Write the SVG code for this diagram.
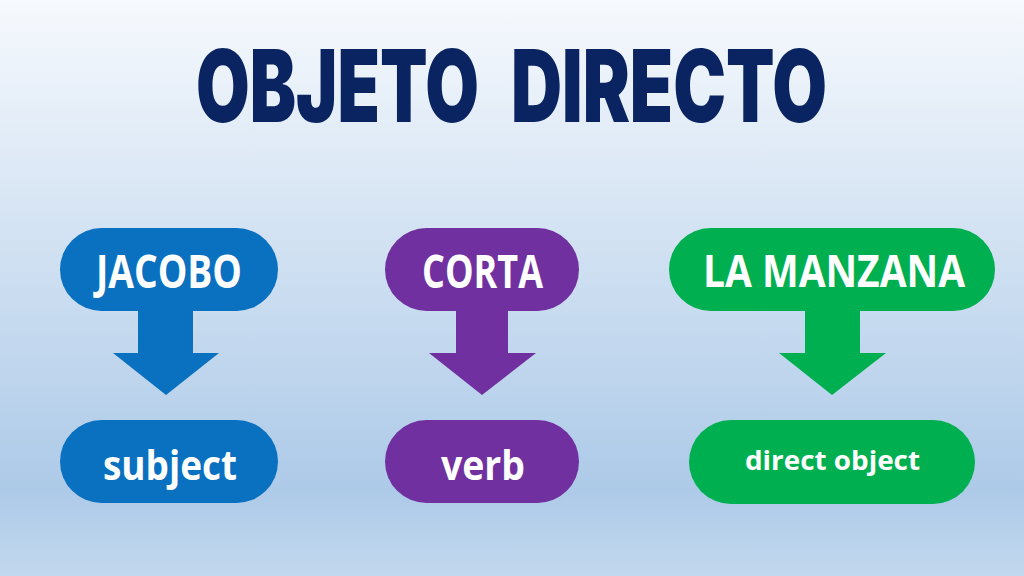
<svg xmlns="http://www.w3.org/2000/svg" width="1024" height="576" viewBox="0 0 1024 576">
<defs>
<linearGradient id="bg" x1="0" y1="0" x2="0" y2="1">
<stop offset="0" stop-color="#f6f9fd"/>
<stop offset="0.85" stop-color="#adcae8"/>
<stop offset="1" stop-color="#c2d8ee"/>
</linearGradient>
<style>
.title{font-family:Inter,"Open Sans","Liberation Sans",sans-serif;font-weight:900;font-size:100px;fill:#0a2462}
.lbl{font-family:"Open Sans","Liberation Sans",sans-serif;font-weight:700;fill:#ffffff;text-anchor:start}
.blue{fill:#0a70c0}
.purple{fill:#7030a0}
.green{fill:#00b050}
</style>
</defs>
<rect width="1024" height="576" fill="url(#bg)"/>
<g id="title">
<text class="title" x="196" y="122" textLength="283" lengthAdjust="spacingAndGlyphs">OBJETO</text>
<text class="title" x="511" y="122" textLength="316" lengthAdjust="spacingAndGlyphs">DIRECTO</text>
</g>
<g id="connectors">
<polygon class="blue" points="138,300 193,300 193,353 219,353 166,395 113,353 138,353"/>
<polygon class="purple" points="456,300 508,300 508,353 536,353 482,395 429,353 456,353"/>
<polygon class="green" points="805,300 860,300 860,353 886,353 832,395 779,353 805,353"/>
</g>
<g id="jacobo">
<rect class="blue" x="60" y="228" width="218" height="83" rx="41.5"/>
<text class="lbl" x="96" y="288" font-size="46" textLength="146" lengthAdjust="spacingAndGlyphs">JACOBO</text>
</g>
<g id="corta">
<rect class="purple" x="385" y="228" width="194" height="83" rx="41.5"/>
<text class="lbl" x="422" y="288" font-size="46" textLength="121" lengthAdjust="spacingAndGlyphs">CORTA</text>
</g>
<g id="la-manzana">
<rect class="green" x="669" y="228" width="326" height="83" rx="41.5"/>
<text class="lbl" x="703" y="287" font-size="44" textLength="262" lengthAdjust="spacingAndGlyphs">LA MANZANA</text>
</g>
<g id="subject">
<rect class="blue" x="60" y="420" width="218" height="83" rx="41.5"/>
<text class="lbl" x="103" y="480" font-size="42" textLength="134" lengthAdjust="spacingAndGlyphs">subject</text>
</g>
<g id="verb">
<rect class="purple" x="385" y="420" width="194" height="83" rx="41.5"/>
<text class="lbl" x="441" y="480" font-size="42" textLength="84" lengthAdjust="spacingAndGlyphs">verb</text>
</g>
<g id="direct-object">
<rect class="green" x="689" y="420" width="286" height="84" rx="42"/>
<text class="lbl" x="745" y="470" font-size="27" textLength="175" lengthAdjust="spacingAndGlyphs">direct object</text>
</g>
</svg>
